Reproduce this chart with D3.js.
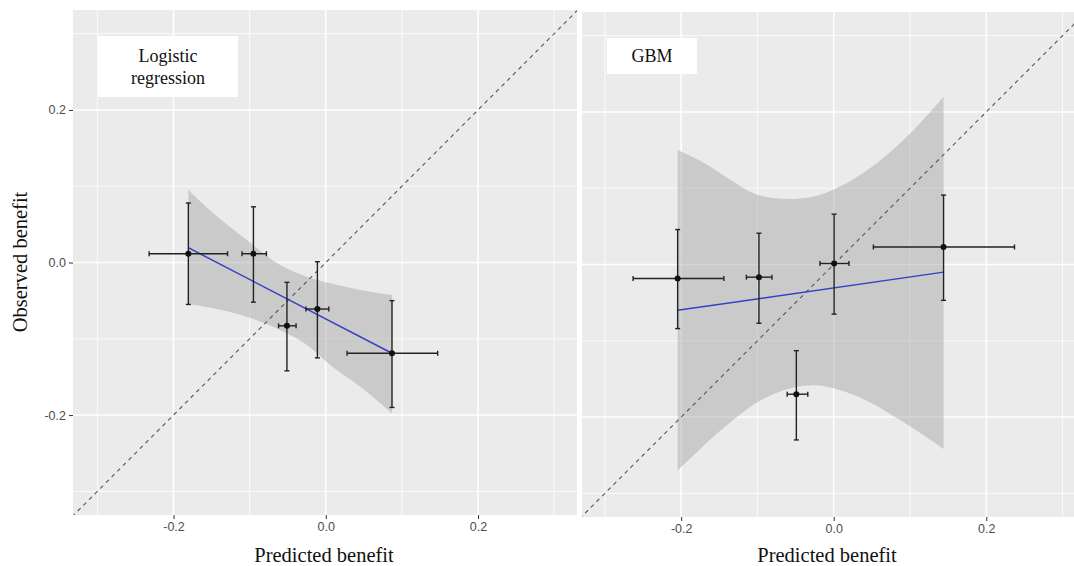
<!DOCTYPE html>
<html>
<head>
<meta charset="utf-8">
<script src="https://cdn.jsdelivr.net/npm/d3@7"></script>
<style>
  body { margin: 0; background: #fff; }
  svg { display: block; }
</style>
</head>
<body>
<svg id="chart" width="1074" height="566"></svg>
<script>
// values
const lrX = [-0.1805, -0.095, -0.051, -0.011, 0.087];
const lrY = [0.0115, 0.0115, -0.083, -0.061, -0.119];
const lrXLo = [-0.232, -0.110, -0.062, -0.026, 0.028];
const lrXHi = [-0.129, -0.078, -0.039, 0.004, 0.147];
const lrYLo = [-0.055, -0.052, -0.142, -0.125, -0.190];
const lrYHi = [0.078, 0.073, -0.026, 0.001, -0.050];
const lrFit = [[-0.1805, 0.0194], [0.087, -0.119]];
const lrBandX = [-0.1805, -0.1476, -0.1037, -0.0599, -0.0247, 0.0059, 0.0454, 0.0871];
const lrBandHi = [0.0951, 0.0646, 0.0295, -0.0033, -0.0186, -0.0273, -0.0361, -0.0426];
const lrBandLo = [-0.0544, -0.0601, -0.0711, -0.0885, -0.1082, -0.1344, -0.1629, -0.1978];

const gbX = [-0.2046, -0.098, -0.049, 0.0005, 0.144];
const gbY = [-0.0183, -0.0166, -0.170, 0.0013, 0.023];
const gbXLo = [-0.263, -0.1145, -0.061, -0.018, 0.052];
const gbXHi = [-0.144, -0.081, -0.034, 0.020, 0.237];
const gbYLo = [-0.084, -0.077, -0.230, -0.065, -0.047];
const gbYHi = [0.0458, 0.041, -0.113, 0.066, 0.091];
const gbFit = [[-0.2046, -0.060], [0.144, -0.010]];
const gbBandX = [-0.2046, -0.1705, -0.1355, -0.1005, -0.0611, -0.0262, 0.0045, 0.0481, 0.0918, 0.144];
const gbBandHi = [0.150, 0.1333, 0.1111, 0.0915, 0.0859, 0.0893, 0.1003, 0.1264, 0.1634, 0.2200];
const gbBandLo = [-0.270, -0.2375, -0.2069, -0.1808, -0.1634, -0.1582, -0.1634, -0.1808, -0.2069, -0.2418];

const majorTicks = [-0.2, 0, 0.2];
const minorTicks = [-0.3, -0.1, 0.1, 0.3];
const tickFmt = d => d.toFixed(1);   // plain hyphen minus, like R

const svg = d3.select('#chart');

const panels = [
    {name: 'lr', label: ['Logistic', 'regression'], left: 73, right: 577, top: 10, bottom: 515,
     xDom: [-0.332, 0.330], yAxis: true, box: [98, 36, 140, 61],
     px: lrX, py: lrY, xlo: lrXLo, xhi: lrXHi, ylo: lrYLo, yhi: lrYHi,
     fit: lrFit, bx: lrBandX, bhi: lrBandHi, blo: lrBandLo},
    {name: 'gb', label: ['GBM'], left: 582, right: 1074, top: 12, bottom: 517,
     xDom: [-0.330, 0.315], yAxis: false, box: [607, 38, 90, 36],
     px: gbX, py: gbY, xlo: gbXLo, xhi: gbXHi, ylo: gbYLo, yhi: gbYHi,
     fit: gbFit, bx: gbBandX, bhi: gbBandHi, blo: gbBandLo}
];

panels.forEach(function(p) {
    const x = d3.scaleLinear().domain(p.xDom).range([p.left, p.right]);
    const y = d3.scaleLinear().domain([-0.331, 0.331]).range([p.bottom, p.top]);
    const g = svg.append('g');

    g.append('clipPath').attr('id', 'clip-' + p.name)
        .append('rect')
        .attr('x', p.left).attr('y', p.top)
        .attr('width', p.right - p.left).attr('height', p.bottom - p.top);

    g.append('rect')
        .attr('x', p.left).attr('y', p.top)
        .attr('width', p.right - p.left).attr('height', p.bottom - p.top)
        .attr('fill', '#ebebeb');

    const grid = g.append('g').attr('clip-path', 'url(#clip-' + p.name + ')');
    grid.selectAll('.vminor').data(minorTicks).enter().append('line')
        .attr('x1', x).attr('x2', x).attr('y1', p.top).attr('y2', p.bottom)
        .attr('stroke', '#fff').attr('stroke-width', 0.8);
    grid.selectAll('.hminor').data(minorTicks).enter().append('line')
        .attr('y1', y).attr('y2', y).attr('x1', p.left).attr('x2', p.right)
        .attr('stroke', '#fff').attr('stroke-width', 0.8);
    grid.selectAll('.vmajor').data(majorTicks).enter().append('line')
        .attr('x1', x).attr('x2', x).attr('y1', p.top).attr('y2', p.bottom)
        .attr('stroke', '#fff').attr('stroke-width', 1.5);
    grid.selectAll('.hmajor').data(majorTicks).enter().append('line')
        .attr('y1', y).attr('y2', y).attr('x1', p.left).attr('x2', p.right)
        .attr('stroke', '#fff').attr('stroke-width', 1.5);

    const plot = g.append('g').attr('clip-path', 'url(#clip-' + p.name + ')');

    // confidence band
    const band = p.bx.map((v, i) => ({x: v, lo: p.blo[i], hi: p.bhi[i]}));
    plot.append('path')
        .datum(band)
        .attr('d', d3.area().curve(d3.curveMonotoneX)
            .x(d => x(d.x)).y0(d => y(d.lo)).y1(d => y(d.hi)))
        .attr('fill', '#999').attr('fill-opacity', 0.4);

    // identity line
    plot.append('line')
        .attr('x1', x(-0.4)).attr('y1', y(-0.4))
        .attr('x2', x(0.4)).attr('y2', y(0.4))
        .attr('stroke', '#555').attr('stroke-width', 1.1)
        .attr('stroke-dasharray', '4,4');

    // fitted line
    plot.append('path')
        .datum(p.fit)
        .attr('d', d3.line().x(d => x(d[0])).y(d => y(d[1])))
        .attr('stroke', '#3540c4').attr('stroke-width', 1.5).attr('fill', 'none');

    const pts = p.px.map((v, i) => ({x: v, y: p.py[i], xlo: p.xlo[i], xhi: p.xhi[i], ylo: p.ylo[i], yhi: p.yhi[i]}));
    const bars = plot.append('g').attr('stroke', '#222').attr('stroke-width', 1.4);
    const cap = 2.5;
    pts.forEach(function(d) {
        bars.append('line').attr('x1', x(d.xlo)).attr('x2', x(d.xhi)).attr('y1', y(d.y)).attr('y2', y(d.y));
        bars.append('line').attr('x1', x(d.xlo)).attr('x2', x(d.xlo)).attr('y1', y(d.y) - cap).attr('y2', y(d.y) + cap);
        bars.append('line').attr('x1', x(d.xhi)).attr('x2', x(d.xhi)).attr('y1', y(d.y) - cap).attr('y2', y(d.y) + cap);
        bars.append('line').attr('x1', x(d.x)).attr('x2', x(d.x)).attr('y1', y(d.ylo)).attr('y2', y(d.yhi));
        bars.append('line').attr('x1', x(d.x) - cap).attr('x2', x(d.x) + cap).attr('y1', y(d.ylo)).attr('y2', y(d.ylo));
        bars.append('line').attr('x1', x(d.x) - cap).attr('x2', x(d.x) + cap).attr('y1', y(d.yhi)).attr('y2', y(d.yhi));
    });
    plot.selectAll('.pt').data(pts).enter().append('circle')
        .attr('cx', d => x(d.x)).attr('cy', d => y(d.y)).attr('r', 3)
        .attr('fill', '#111');

    // label box
    g.append('rect')
        .attr('x', p.box[0]).attr('y', p.box[1])
        .attr('width', p.box[2]).attr('height', p.box[3])
        .attr('fill', '#fff');
    const lt = g.append('text')
        .attr('x', p.box[0] + p.box[2] / 2)
        .attr('text-anchor', 'middle')
        .attr('font-family', '"Liberation Serif", "Times New Roman", serif')
        .attr('font-size', 18).attr('fill', '#111');
    const n = p.label.length;
    p.label.forEach(function(t, i) {
        lt.append('tspan')
            .attr('x', p.box[0] + p.box[2] / 2)
            .attr('y', p.box[1] + p.box[3] / 2 + 6 + (i - (n - 1) / 2) * 22)
            .text(t);
    });

    // axes
    const xAxis = g.append('g')
        .attr('transform', 'translate(0,' + p.bottom + ')')
        .call(d3.axisBottom(x).tickValues(majorTicks).tickFormat(tickFmt).tickSize(4).tickPadding(3));
    xAxis.select('.domain').remove();
    xAxis.selectAll('line').attr('stroke', '#333');
    xAxis.selectAll('text').attr('fill', '#4d4d4d')
        .attr('font-family', '"Liberation Sans", Arial, sans-serif').attr('font-size', 12.5);

    if (p.yAxis) {
        const yAxis = g.append('g')
            .attr('transform', 'translate(' + p.left + ',0)')
            .call(d3.axisLeft(y).tickValues(majorTicks).tickFormat(tickFmt).tickSize(4).tickPadding(3));
        yAxis.select('.domain').remove();
        yAxis.selectAll('line').attr('stroke', '#333');
        yAxis.selectAll('text').attr('fill', '#4d4d4d')
            .attr('font-family', '"Liberation Sans", Arial, sans-serif').attr('font-size', 12.5);
    }

    g.append('text')
        .attr('x', (p.left + p.right) / 2 - 1)
        .attr('y', 562)
        .attr('text-anchor', 'middle')
        .attr('font-family', '"Liberation Serif", "Times New Roman", serif')
        .attr('font-size', 20.5).attr('fill', '#111')
        .text('Predicted benefit');
});

svg.append('text')
    .attr('transform', 'translate(27,262) rotate(-90)')
    .attr('text-anchor', 'middle')
    .attr('font-family', '"Liberation Serif", "Times New Roman", serif')
    .attr('font-size', 20.5).attr('fill', '#111')
    .text('Observed benefit');
</script>
</body>
</html>
